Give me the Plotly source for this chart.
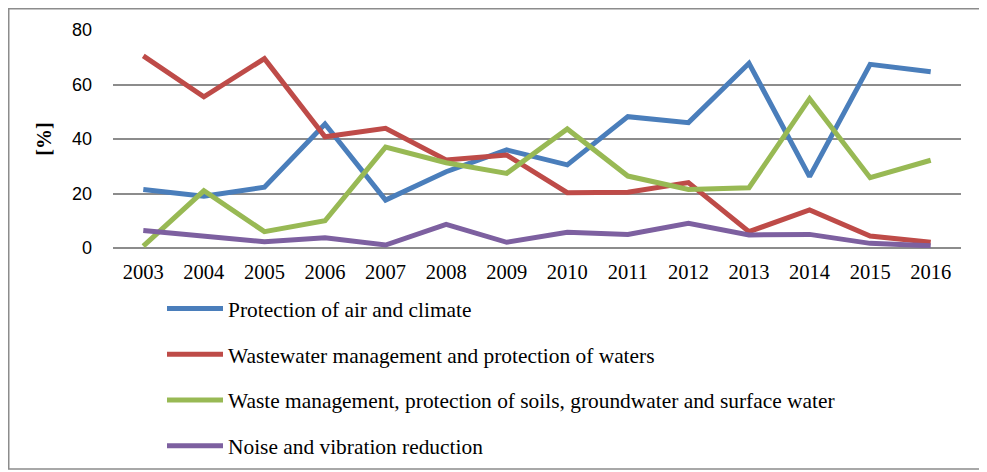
"""
Environmental protection expenditure shares by domain, 2003-2016.
"""
import plotly.graph_objects as go

years = ['2003', '2004', '2005', '2006', '2007', '2008', '2009',
         '2010', '2011', '2012', '2013', '2014', '2015', '2016']

air_climate = [21.5, 19.0, 22.3, 45.5, 17.6, 28.0, 36.0,
               30.5, 48.2, 46.0, 67.8, 26.2, 67.4, 64.7]
wastewater = [70.5, 55.5, 69.5, 40.8, 43.9, 32.3, 34.1,
              20.3, 20.5, 24.0, 6.0, 14.0, 4.4, 2.1]
waste_soils = [0.7, 21.0, 6.0, 10.0, 37.0, 31.3, 27.4,
               43.7, 26.4, 21.5, 22.1, 54.8, 25.8, 32.2]
noise = [6.4, 4.2, 2.3, 3.8, 1.1, 8.7, 2.1,
         5.8, 5.0, 9.1, 4.8, 5.0, 1.7, 0.8]

series_names = [
    'Protection of air and climate',
    'Wastewater management and protection of waters',
    'Waste management, protection of soils, groundwater and surface water',
    'Noise and vibration reduction',
]

# Paleta Excel 2007
COLORS = ['#4a7ebb', '#be4b48', '#98b954', '#7d60a0']

SERIF = 'Liberation Serif, Times New Roman, serif'
SANS = 'Liberation Sans, Arial, sans-serif'

# A página tem margem de 8px no body, por isso a figura é um pouco menor
W, H = 979, 464
L, R, T = 105, 26, 22
PW, PH = W - L - R, H - T  # área "paper" (margem inferior zero)


def px_x(px):
    return (px - L) / PW


def px_y(py):
    return (H - py) / PH


fig = go.Figure()
for i, (name, values) in enumerate(zip(series_names,
                                       [air_climate, wastewater, waste_soils, noise])):
    fig.add_trace(go.Scatter(
        x=years,
        y=values,
        name=name,
        mode='lines',
        line=dict(color=COLORS[i], width=5),
        legendgroup=f'g{i}',
        hovertemplate='%{x}<br>%{y:.1f}%<extra></extra>'
    ))

fig.update_layout(
    width=W,
    height=H,
    plot_bgcolor='white',
    paper_bgcolor='white',
    margin=dict(l=L, r=R, t=T, b=0, autoexpand=False),
    showlegend=True,
    legend=dict(
        x=px_x(154), y=px_y(280),
        xanchor='left', yanchor='top',
        orientation='v',
        font=dict(family=SERIF, size=21.4, color='black'),
        tracegroupgap=15,
        itemwidth=56,
        bgcolor='rgba(0,0,0,0)'
    ),
    shapes=[dict(
        type='rect', xref='paper', yref='paper',
        x0=px_x(0.75), x1=px_x(1000),
        y0=px_y(461), y1=px_y(0.75),
        line=dict(color='#8c8c8c', width=1.5),
        fillcolor='rgba(0,0,0,0)', layer='below'
    )]
)

fig.update_xaxes(
    type='category',
    range=[-0.5, 13.5],
    showgrid=False,
    showline=False,
    zeroline=False,
    tickfont=dict(family=SERIF, size=20.5, color='black'),
    ticks='',
    ticklabelstandoff=9
)

fig.update_yaxes(
    domain=[px_y(240), 1],
    range=[0, 80],
    tickvals=[0, 20, 40, 60, 80],
    showgrid=True,
    gridcolor='#8c8c8c',
    gridwidth=1.5,
    zeroline=True,
    zerolinecolor='#8c8c8c',
    zerolinewidth=1.5,
    showline=False,
    tickfont=dict(family=SANS, size=18, color='black'),
    ticks='',
    ticklabelstandoff=20,
    title=dict(text='<b>[%]</b>', font=dict(family=SERIF, size=20, color='black'),
               standoff=14)
)

fig.write_html('out.html')
